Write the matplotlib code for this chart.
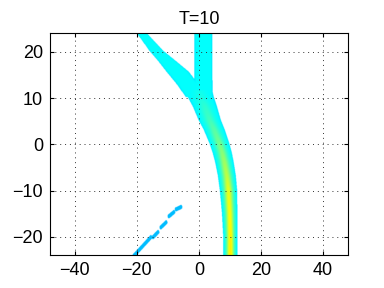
import numpy as np
import matplotlib.pyplot as plt
from matplotlib.colors import LinearSegmentedColormap

# centerline of main (lower) branch
main_y = [-24, -20, -15, -10, -7, -4, -2, 0, 3, 5, 8, 10, 11.5]
main_x = [10.1, 10.1, 9.9, 9.5, 9.0, 8.2, 7.5, 6.6, 4.9, 3.5, 1.9, 0.6, 0.0]
main_w = [2.3, 2.3, 2.5, 2.8, 2.9, 3.0, 3.1, 3.2, 3.4, 3.6, 3.9, 4.2, 4.3]
main_peak = [0.645, 0.64, 0.62, 0.6, 0.56, 0.53, 0.51, 0.49, 0.46, 0.44, 0.42, 0.4, 0.39]

# left upper branch
left_y = [10, 13, 15.5, 18, 20, 22, 24]
left_x = [-1.1, -3.9, -6.9, -10.6, -13.75, -16.2, -18.7]
left_w = [3.1, 3.5, 3.6, 2.8, 2.25, 1.9, 1.6]
left_peak = [0.375, 0.375, 0.375, 0.375, 0.375, 0.375, 0.375]

# vertical upper branch
vert_y = [10, 14, 18, 24]
vert_x = [1.4, 1.4, 1.4, 1.4]
vert_w = [3.0, 2.95, 2.95, 2.95]
vert_peak = [0.375, 0.375, 0.375, 0.375]

# broken streak, lower left (segments)
streak_x0 = [-21.0, -14.8, -12.3, -9.7, -7.4]
streak_y0 = [-24.2, -20.2, -18.1, -15.7, -14.2]
streak_x1 = [-15.5, -13.2, -10.6, -8.1, -5.8]
streak_y1 = [-20.2, -19.1, -17.0, -14.8, -13.7]
streak_val = 0.31

xticks = [-40, -20, 0, 20, 40]
yticks = [-20, -10, 0, 10, 20]

xs = np.linspace(-48, 48, 960)
ys = np.linspace(-24, 24, 480)
X, Y = np.meshgrid(xs, ys)
field = np.full(X.shape, np.nan)


def add_branch(field, by, bx, bw, bp):
    ymin, ymax = min(by), max(by)
    xc = np.interp(Y, by, bx)
    w = np.interp(Y, by, bw)
    pk = np.interp(Y, by, bp)
    d = np.abs(X - xc) / w
    base = 0.35 + 0.025 * np.clip(5 * (1 - d), 0, 1)
    v = base + np.clip(pk - 0.375, 0, None) * np.exp(-(d / 0.5) ** 2)
    inside = (d < 1) & (Y >= ymin) & (Y <= ymax)
    v = np.where(inside, v, np.nan)
    return np.fmax(field, v)


field = add_branch(field, main_y, main_x, main_w, main_peak)
field = add_branch(field, left_y, left_x, left_w, left_peak)
field = add_branch(field, vert_y, vert_x, vert_w, vert_peak)

for x0, y0, x1, y1 in zip(streak_x0, streak_y0, streak_x1, streak_y1):
    dx, dy = x1 - x0, y1 - y0
    t = np.clip(((X - x0) * dx + (Y - y0) * dy) / (dx * dx + dy * dy), 0, 1)
    dist = np.hypot(X - (x0 + t * dx), Y - (y0 + t * dy))
    field = np.where(dist < 0.45, np.fmax(field, streak_val), field)

# matlab style jet
jet = LinearSegmentedColormap.from_list('mjet', [
    (0.0, (0, 0, 0.5)), (0.125, (0, 0, 1)), (0.375, (0, 1, 1)),
    (0.625, (1, 1, 0)), (0.875, (1, 0, 0)), (1.0, (0.5, 0, 0))])
jet.set_bad('white')

plt.rcParams['font.family'] = ['Liberation Sans', 'DejaVu Sans']
fig = plt.figure(figsize=(3.84, 2.88), dpi=100)
ax = fig.add_axes([0.130, 0.113, 0.776, 0.771])

ax.imshow(np.ma.masked_invalid(field), extent=[-48, 48, -24, 24], origin='lower',
          cmap=jet, vmin=0, vmax=1, aspect='auto', interpolation='bilinear')

ax.set_xlim(-48, 48)
ax.set_ylim(-24, 24)
ax.set_xticks(xticks)
ax.set_yticks(yticks)
ax.tick_params(direction='in', top=True, right=True, labelsize=13, length=3, pad=5)
ax.grid(True, linestyle=(0, (1, 4)), color='#333333', linewidth=0.7)
for s in ax.spines.values():
    s.set_linewidth(0.8)
ax.set_title('T=10', fontsize=13, pad=7)

fig.savefig('out.png', dpi=100)
